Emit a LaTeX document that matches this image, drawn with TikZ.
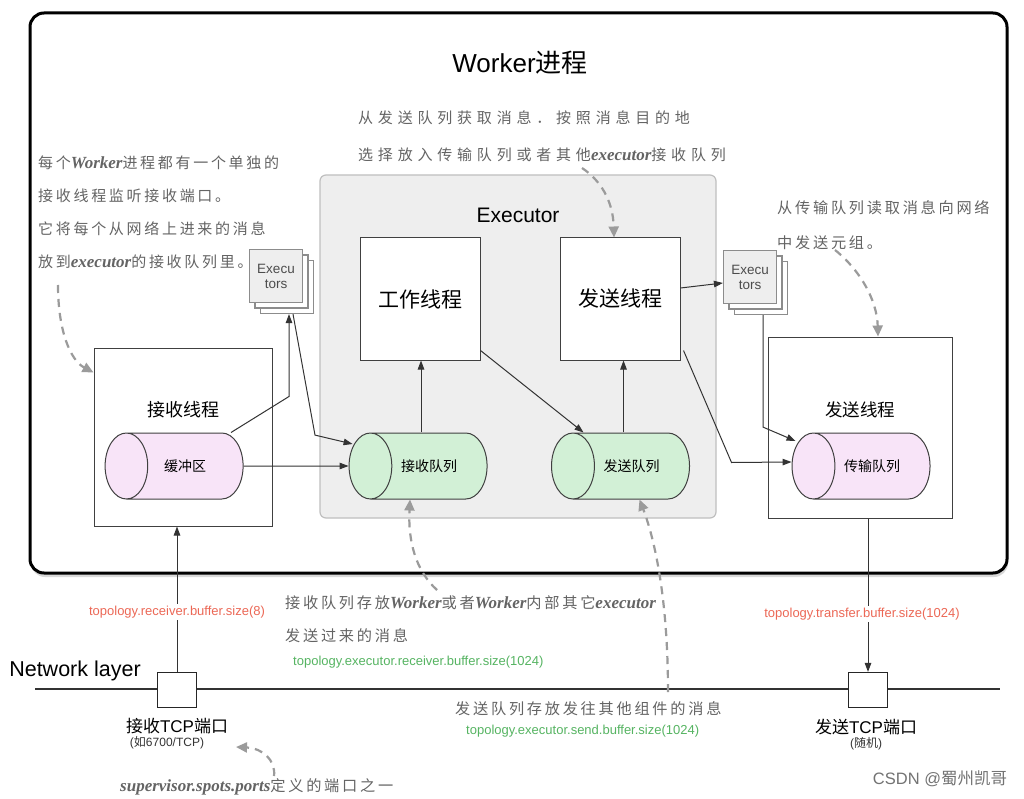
\documentclass[tikz,border=0pt]{standalone}
\usepackage{fontspec}
\setmainfont{Liberation Sans}
\newfontfamily\zhfont{Noto Sans CJK SC}
\newfontfamily\handfont[LetterSpace=18]{Noto Sans CJK SC}
\newfontfamily\handwide[LetterSpace=32]{Noto Sans CJK SC}
\newfontfamily\handlat{Liberation Serif}
\usetikzlibrary{shapes.geometric,arrows.meta,shadows}

\newcommand{\zh}[1]{{\zhfont #1}}
\newcommand{\hw}[1]{{\handlat\bfseries\itshape\fontsize{17}{20}\selectfont #1}}

\definecolor{paramred}{RGB}{236,104,86}
\definecolor{paramgreen}{RGB}{86,180,98}
\definecolor{bufpink}{RGB}{248,228,248}
\definecolor{qgreen}{RGB}{210,240,214}
\definecolor{execgray}{RGB}{238,238,238}
\definecolor{notegray}{RGB}{100,100,100}
\definecolor{dashgray}{RGB}{155,155,155}

\begin{document}
\begin{tikzpicture}[
    x=1pt, y=-1pt,
    thread/.style={draw=black!75, fill=white, line width=1pt, inner sep=0pt},
    queue/.style={cylinder, shape border rotate=180, aspect=3.3, draw=black!75,
      line width=1pt, minimum width=66pt, minimum height=138pt, inner sep=0pt,
      font=\zhfont\fontsize{14}{16}\selectfont},
    stack/.style={draw=black!45, fill=execgray, line width=1.2pt, minimum width=53pt,
      minimum height=53pt, inner sep=0pt, align=center, text=black!70,
      font=\fontsize{13.5}{15}\selectfont,
      double copy shadow={shadow xshift=5.5pt, shadow yshift=-5.5pt, fill=white, draw=black!45}},
    port/.style={draw=black!85, fill=white, line width=1.2pt, minimum width=39pt,
      minimum height=35pt, inner sep=0pt},
    param/.style={fill=white, inner sep=2pt, font=\fontsize{13}{15}\selectfont},
    note/.style={text=notegray, align=left, inner sep=0pt, anchor=west},
    conn/.style={draw=black!80, line width=1pt, -{Triangle[length=9pt,width=6.5pt]}},
    hint/.style={draw=dashgray, line width=2.2pt, dash pattern=on 8pt off 6pt,
      -{Triangle[length=11pt,width=10pt]}},
  ]
  \path[fill=white, use as bounding box] (0,0) rectangle (1024,799);

  % Worker process
  \node[draw=black, line width=3pt, rounded corners=14pt, fill=white,
    minimum width=977pt, minimum height=560pt,
    drop shadow={shadow xshift=1pt, shadow yshift=-4pt, opacity=0.3}] (worker) at (518.5,293) {};
  \node[font=\fontsize{26}{30}\selectfont] (workertitle) at (520,63) {Worker\zh{进程}};

  % Executor
  \node[draw=black!25, fill=execgray, line width=1.2pt, rounded corners=6pt,
    minimum width=396pt, minimum height=343pt] (executor) at (518,346.5) {};
  \node[font=\fontsize{21}{24}\selectfont] (exectitle) at (518,215) {Executor};
  \node[thread, minimum width=120pt, minimum height=122pt,
    font=\zhfont\fontsize{21}{24}\selectfont] (workthread) at (420,299) {工作线程};
  \node[thread, minimum width=120pt, minimum height=122pt,
    font=\zhfont\fontsize{21}{24}\selectfont] (sendthread) at (620,299) {发送线程};
  \node[queue, fill=qgreen] (recvq) at (429,466) {接收队列};
  \node[queue, fill=qgreen] (sendq) at (631.5,466) {发送队列};

  % receiver / transfer threads
  \node[thread, minimum width=178pt, minimum height=178pt] (recvthread) at (183,437) {};
  \node[font=\zhfont\fontsize{18}{20}\selectfont] (recvlabel) at (183,410) {接收线程};
  \node[queue, fill=bufpink] (buf) at (185,466) {缓冲区};
  \node[thread, minimum width=184pt, minimum height=181pt] (netsend) at (860,427.5) {};
  \node[font=\zhfont\fontsize{17.5}{20}\selectfont] (netsendlabel) at (860,410) {发送线程};
  \node[queue, fill=bufpink] (transq) at (872,466) {传输队列};

  \node[stack] (execsL) at (276,276) {Execu\\tors};
  \node[stack] (execsR) at (750,277) {Execu\\tors};

  % network layer
  \coordinate (netL) at (35,689);
  \coordinate (netR) at (1000,689);
  \draw[black!80, line width=1.5pt] (netL) -- (netR);
  \node[font=\fontsize{21.5}{24}\selectfont] (netlabel) at (75,671) {Network layer};
  \node[port] (portR) at (177,690) {};
  \node[port] (portS) at (868,690) {};
  \node[font=\fontsize{17}{20}\selectfont] (portRlabel) at (177,726) {\zh{接收}TCP\zh{端口}};
  \node[font=\fontsize{12}{14}\selectfont, text=black!80] (portRsub) at (167,743) {(\zh{如}6700/TCP)};
  \node[font=\fontsize{17}{20}\selectfont] (portSlabel) at (866,727) {\zh{发送}TCP\zh{端口}};
  \node[font=\fontsize{12}{14}\selectfont, text=black!80] (portSsub) at (866,744) {(\zh{随机})};

  % data flow
  \draw[conn] (buf.east) -- (recvq.west);
  \draw[conn] ([xshift=46pt]buf.north) -- ++(58,-36) -- ([xshift=13pt,yshift=-11pt]execsL.south);
  \draw[conn] ([xshift=17pt,yshift=-11pt]execsL.south) -- ++(22,121) -- ([xshift=4pt,yshift=22pt]recvq.west);
  \draw[conn] ([xshift=-8pt]recvq.north) -- ([xshift=-8pt]recvq.north |- workthread.south);
  \draw[conn] ([yshift=10pt]workthread.south east) -- ([xshift=-48pt]sendq.north);
  \draw[conn] ([xshift=-8pt]sendq.north) -- ([xshift=-8pt]sendq.north |- sendthread.south);
  \draw[conn] ([yshift=11pt]sendthread.east) -- ([yshift=-6pt]execsR.west);
  \draw[conn] ([xshift=13pt,yshift=-11pt]execsR.south) -- ++(0,112) -- ([xshift=4pt,yshift=25pt]transq.west);
  \draw[conn] ([xshift=3pt,yshift=10pt]sendthread.south east) -- ++(48,112) -- ([yshift=4pt]transq.west);
  \draw[conn] (portR.north) -- (portR.north |- recvthread.south);
  \draw[conn] (portS.north |- netsend.south) -- (portS.north);

  % buffer sizes
  \node[param, text=paramred] (recvparam) at (177,612) {topology.receiver.buffer.size(8)};
  \node[param, text=paramred] (transparam) at (862,614) {topology.transfer.buffer.size(1024)};
  \node[param, text=paramgreen, anchor=west] (recvqparam) at (291,662) {topology.executor.receiver.buffer.size(1024)};
  \node[param, text=paramgreen, anchor=west] (sendqparam) at (464,731) {topology.executor.send.buffer.size(1024)};

  % notes
  \node[note, font=\handfont\fontsize{15}{33}\selectfont] (noteRecv) at (38,212.5)
    {每个\hw{Worker}进程都有一个单独的\\接收线程监听接收端口。\\它将每个从网络上进来的消息\\放到\hw{executor}的接收队列里。};
  \node[note, font=\handwide\fontsize{15}{37}\selectfont] (noteSend) at (358,136.5)
    {从发送队列获取消息．按照消息目的地\\选择放入传输队列或者其他\hw{executor}接收队列};
  \node[note, font=\handfont\fontsize{15.2}{35}\selectfont] (noteTrans) at (777,225.5)
    {从传输队列读取消息向网络\\中发送元组。};
  \node[note, font=\handfont\fontsize{15.2}{33}\selectfont] (noteRecvq) at (285,619.5)
    {接收队列存放\hw{Worker}或者\hw{Worker}内部其它\hw{executor}\\发送过来的消息};
  \node[note, font=\handfont\fontsize{15.2}{33}\selectfont] (noteSendq) at (455,709)
    {发送队列存放发往其他组件的消息};
  \node[note, font=\handfont\fontsize{15.2}{33}\selectfont] (notePort) at (120,787)
    {\hw{supervisor.spots.ports}定义的端口之一};

  \coordinate (tailRecv) at (58,285);
  \coordinate (tailSend) at (582,168);
  \coordinate (tailTrans) at (835,250);
  \coordinate (tailRecvq) at (437,590);
  \coordinate (tailSendq) at (668,692);
  \coordinate (tailPort) at (274,776);
  \coordinate (headPort) at (236,747);
  \draw[hint] (tailRecv) .. controls (58,330) and (70,360) .. ([yshift=-25pt]recvthread.north west);
  \draw[hint] (tailSend) .. controls (600,180) and (613,200) .. ([xshift=-6pt]sendthread.north);
  \draw[hint] (tailTrans) .. controls (860,270) and (877,300) .. ([xshift=18pt]netsend.north);
  \draw[hint] (tailRecvq) .. controls (415,570) and (408,540) .. ([xshift=-19pt]recvq.south);
  \draw[hint] (tailSendq) .. controls (668,600) and (655,540) .. ([xshift=8pt]sendq.south);
  \draw[hint] (tailPort) .. controls (276,760) and (262,748) .. (headPort);

  \node[text=black!55, font=\fontsize{16.5}{19}\selectfont] (mark) at (940,779) {CSDN @\zh{蜀州凯哥}};
\end{tikzpicture}
\end{document}
